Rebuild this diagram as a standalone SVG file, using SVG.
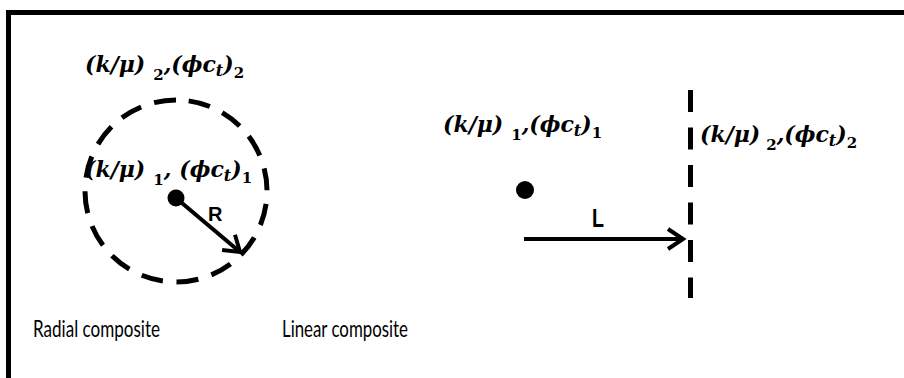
<svg xmlns="http://www.w3.org/2000/svg" width="904" height="378" viewBox="0 0 904 378">
<style>
.m{font-family:"DejaVu Serif","Liberation Serif",serif;font-weight:bold;font-style:italic;font-size:22px;fill:#000}
.d{font-style:normal;font-size:15px}
.ts{font-size:16px}
.cap{font-family:Lato,"Liberation Sans",sans-serif;font-size:23px;fill:#000}
.lbl{font-family:"Liberation Sans",Arial,sans-serif;font-weight:bold;fill:#000}
.dash{fill:none;stroke:#000;stroke-width:5}
.arr{fill:none;stroke:#000;stroke-width:4}
</style>
<defs>
<marker id="chev" markerUnits="userSpaceOnUse" markerWidth="30" markerHeight="30" viewBox="-20 -15 25 30" refX="0" refY="0" orient="auto">
<path d="M-15,-10 L0,0 L-15,10" fill="none" stroke="#000" stroke-width="4" stroke-linejoin="miter"/>
</marker>
</defs>
<rect width="904" height="378" fill="#fff"/>
<path d="M8.5,378 V12.5 H904" fill="none" stroke="#000" stroke-width="5"/>

<g id="radial">
<circle id="outer-boundary" class="dash" cx="176" cy="191" r="91" stroke-dasharray="22 13.74" transform="rotate(-82 176 191)"/>
<circle id="well-radial" cx="176" cy="198" r="8.5" fill="#000"/>
<g id="label-radial-outer">
<text class="m" x="85" y="72">(k/μ)<tspan class="d" dx="8" dy="8">2</tspan><tspan dy="-8">,</tspan><tspan>(ϕc</tspan><tspan class="ts" dy="4">t</tspan><tspan dy="-4">)</tspan><tspan class="d" dy="6">2</tspan></text>
</g>
<g id="label-radial-inner">
<text class="m" x="85" y="177">(k/μ)<tspan class="d" dx="8" dy="8">1</tspan><tspan dy="-8">,</tspan><tspan dx="8">(ϕc</tspan><tspan class="ts" dy="4">t</tspan><tspan dy="-4">)</tspan><tspan class="d" dy="6">1</tspan></text>
</g>
<text id="label-R" class="lbl" x="208" y="221" font-size="20">R</text>
<text id="caption-radial" class="cap" x="33" y="337" textLength="127" lengthAdjust="spacingAndGlyphs">Radial composite</text>
</g>

<g id="linear">
<circle id="well-linear" cx="525" cy="190" r="9" fill="#000"/>
<line id="boundary-linear" class="dash" x1="690.5" y1="90" x2="690.5" y2="298" stroke-dasharray="22 15.5"/>
<g id="label-linear-left">
<text class="m" x="443" y="132">(k/μ)<tspan class="d" dx="8" dy="8">1</tspan><tspan dy="-8">,</tspan><tspan>(ϕc</tspan><tspan class="ts" dy="4">t</tspan><tspan dy="-4">)</tspan><tspan class="d" dy="6">1</tspan></text>
</g>
<g id="label-linear-right">
<text class="m" x="700" y="142">(k/μ)<tspan class="d" dx="6" dy="8">2</tspan><tspan dy="-8">,</tspan><tspan>(ϕc</tspan><tspan class="ts" dy="4">t</tspan><tspan dy="-4">)</tspan><tspan class="d" dy="6">2</tspan></text>
</g>
<text id="label-L" class="lbl" x="592" y="227" font-size="26" textLength="12" lengthAdjust="spacingAndGlyphs">L</text>
<text id="caption-linear" class="cap" x="282" y="337" textLength="126" lengthAdjust="spacingAndGlyphs">Linear composite</text>
</g>

<g id="connectors">
<line id="arrow-R" class="arr" x1="176" y1="198" x2="240" y2="252" marker-end="url(#chev)"/>
<line id="arrow-L" class="arr" x1="524" y1="239" x2="683" y2="239" marker-end="url(#chev)"/>
</g>
</svg>
